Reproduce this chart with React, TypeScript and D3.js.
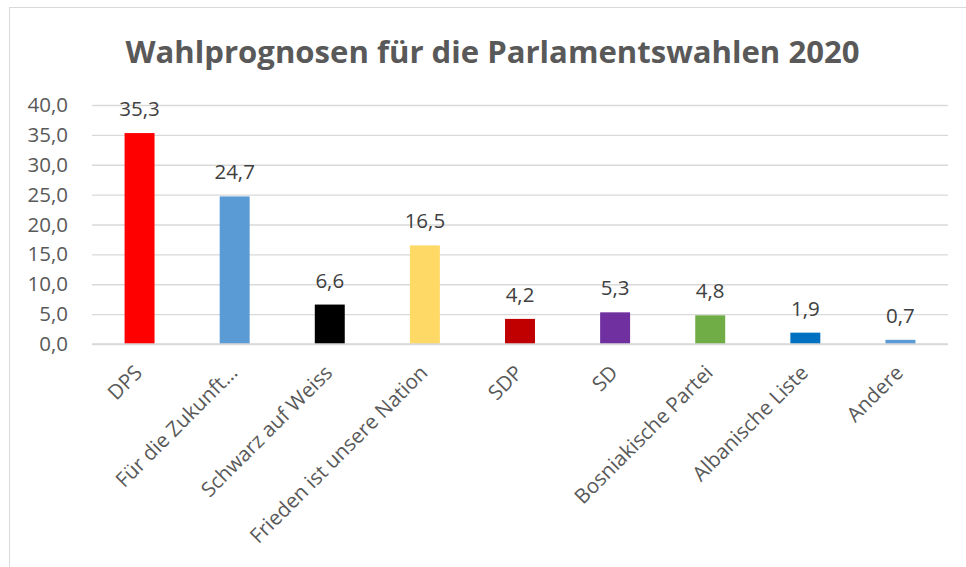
import React, { useRef, useEffect } from 'react';
import * as d3 from 'd3';

const parties = [
  'DPS',
  'Für die Zukunft…',
  'Schwarz auf Weiss',
  'Frieden ist unsere Nation',
  'SDP',
  'SD',
  'Bosniakische Partei',
  'Albanische Liste',
  'Andere',
];
const values = [35.3, 24.7, 6.6, 16.5, 4.2, 5.3, 4.8, 1.9, 0.7];
const barColors = ['#FF0000', '#5B9BD5', '#000000', '#FFD966', '#C00000', '#7030A0', '#70AD47', '#0070C0', '#5B9BD5'];
const yTicks = [0, 5, 10, 15, 20, 25, 30, 35, 40];

const fmt = (v: number) => v.toFixed(1).replace('.', ',');

const App = () => {
  const ref = useRef<SVGSVGElement>(null);

  useEffect(() => {
    document.body.style.margin = '0';
    const svg = d3.select(ref.current);
    svg.selectAll('*').remove();

    const font = '"Open Sans", "Segoe UI", sans-serif';
    const fs = 20.5;
    const margin = { top: 105, left: 92, right: 18, bottom: 223 };
    const width = 966 - margin.left - margin.right;
    const height = 567 - margin.top - margin.bottom;

    // chart frame
    svg.append('rect')
      .attr('x', 9.5).attr('y', 7.5)
      .attr('width', 980).attr('height', 600)
      .attr('fill', '#fff')
      .attr('stroke', '#D9D9D9');

    svg.append('text')
      .attr('x', 492.5).attr('y', 63)
      .attr('text-anchor', 'middle')
      .attr('font-family', font)
      .attr('font-weight', 'bold')
      .attr('font-size', 31.1)
      .attr('fill', '#595959')
      .text('Wahlprognosen für die Parlamentswahlen 2020');

    const g = svg.append('g').attr('transform', `translate(${margin.left},${margin.top})`);

    const x = d3.scaleBand().domain(parties).range([0, width]).paddingInner(0.685).paddingOuter(0.3425);
    const y = d3.scaleLinear().domain([0, 40]).range([height, 0]);

    // gridlines
    g.append('g')
      .call(d3.axisLeft(y).tickValues(yTicks).tickSize(-width).tickFormat(() => ''))
      .call(a => a.select('.domain').remove())
      .selectAll('.tick line')
      .attr('stroke', '#D9D9D9')
      .attr('stroke-width', 1.3);

    // y labels
    g.append('g')
      .call(d3.axisLeft(y).tickValues(yTicks).tickSize(0).tickPadding(24).tickFormat(d => fmt(d as number)))
      .call(a => a.select('.domain').remove())
      .selectAll('text')
      .attr('font-family', font)
      .attr('font-size', fs)
      .attr('fill', '#595959');

    g.selectAll('rect.bar')
      .data(values)
      .enter()
      .append('rect')
      .attr('class', 'bar')
      .attr('x', (d, i) => x(parties[i])!)
      .attr('y', d => y(d))
      .attr('width', x.bandwidth())
      .attr('height', d => height - y(d))
      .attr('fill', (d, i) => barColors[i]);

    g.selectAll('text.val')
      .data(values)
      .enter()
      .append('text')
      .attr('class', 'val')
      .attr('x', (d, i) => x(parties[i])! + x.bandwidth() / 2)
      .attr('y', d => y(d) - 17)
      .attr('text-anchor', 'middle')
      .attr('font-family', font)
      .attr('font-size', fs)
      .attr('fill', '#404040')
      .text(d => fmt(d));

    // baseline
    g.append('line')
      .attr('x1', 0).attr('x2', width)
      .attr('y1', height).attr('y2', height)
      .attr('stroke', '#D9D9D9')
      .attr('stroke-width', 1.5);

    // x labels
    g.selectAll('text.cat')
      .data(parties)
      .enter()
      .append('text')
      .attr('class', 'cat')
      .attr('transform', d => `translate(${x(d)! + x.bandwidth() / 2 + 4},${height + 30}) rotate(-45)`)
      .attr('text-anchor', 'end')
      .attr('font-family', font)
      .attr('font-size', fs)
      .attr('fill', '#595959')
      .text(d => d);
  }, []);

  return <svg ref={ref} width={966} height={567} style={{ display: 'block' }}></svg>;
};

export default App;
